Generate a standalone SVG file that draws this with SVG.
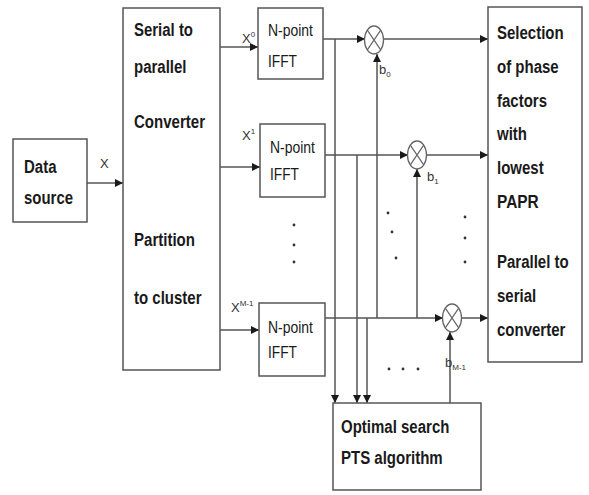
<svg xmlns="http://www.w3.org/2000/svg" width="589" height="495" viewBox="0 0 589 495">
<defs>
<marker id="ah" viewBox="0 0 10 10" refX="10" refY="5" markerWidth="8" markerHeight="8" markerUnits="userSpaceOnUse" orient="auto">
<path d="M0,0 L10,5 L0,10 z" fill="#1a1a1a"/>
</marker>
<style>
.box{fill:#fff;stroke:#555;stroke-width:1.5}
.t{font-family:"Liberation Sans",Arial,sans-serif;font-size:18px;font-weight:bold;fill:#1a1a1a}
.n{font-family:"Liberation Sans",Arial,sans-serif;font-size:17px;fill:#1a1a1a}
.s{font-family:"Liberation Sans",Arial,sans-serif;font-size:13px;fill:#333}
.sup{font-size:8px}
.ln{fill:none;stroke:#555;stroke-width:1.5}
.ar{fill:none;stroke:#555;stroke-width:1.5;marker-end:url(#ah)}
.mul{fill:#fff;stroke:#666;stroke-width:1.3}
.x{fill:none;stroke:#666;stroke-width:1.2}
.dot{fill:#333}
</style>
</defs>
<rect width="589" height="495" fill="#fff"/>

<g id="connectors">
<line class="ar" x1="87" y1="183" x2="123" y2="183"/>
<line class="ar" x1="220" y1="47" x2="258" y2="47"/>
<line class="ar" x1="220" y1="167" x2="260" y2="167"/>
<line class="ar" x1="220" y1="330" x2="259" y2="330"/>
<line class="ar" x1="323" y1="39" x2="365" y2="39"/>
<line class="ar" x1="384" y1="39" x2="488" y2="39"/>
<line class="ar" x1="325" y1="155" x2="408" y2="155"/>
<line class="ar" x1="427" y1="155" x2="488" y2="155"/>
<line class="ar" x1="325" y1="318" x2="443" y2="318"/>
<line class="ar" x1="462" y1="318" x2="488" y2="318"/>
<line class="ar" x1="335" y1="39" x2="335" y2="403"/>
<line class="ar" x1="357" y1="155" x2="357" y2="403"/>
<line class="ar" x1="367" y1="318" x2="367" y2="403"/>
<line class="ar" x1="377" y1="318" x2="377" y2="54"/>
<line class="ar" x1="417" y1="318" x2="417" y2="169"/>
<line class="ar" x1="450" y1="403" x2="450" y2="332"/>
</g>

<g id="mul0"><ellipse class="mul" cx="374" cy="40" rx="9.5" ry="14"/><path class="x" d="M367.3,30.1 L380.7,49.9 M380.7,30.1 L367.3,49.9"/></g>
<g id="mul1"><ellipse class="mul" cx="417" cy="155" rx="9.5" ry="14"/><path class="x" d="M410.3,145.1 L423.7,164.9 M423.7,145.1 L410.3,164.9"/></g>
<g id="mul2"><ellipse class="mul" cx="452" cy="318" rx="9.5" ry="14"/><path class="x" d="M445.3,308.1 L458.7,327.9 M458.7,308.1 L445.3,327.9"/></g>

<g id="datasource">
<rect class="box" x="13" y="139" width="74" height="83"/>
<text class="t" x="24" y="173" textLength="32.5" lengthAdjust="spacingAndGlyphs">Data</text>
<text class="t" x="24" y="204" textLength="49" lengthAdjust="spacingAndGlyphs">source</text>
</g>

<g id="sp">
<rect class="box" x="123" y="8" width="97" height="362"/>
<text class="t" x="134" y="36" textLength="59" lengthAdjust="spacingAndGlyphs">Serial to</text>
<text class="t" x="134" y="73" textLength="52.5" lengthAdjust="spacingAndGlyphs">parallel</text>
<text class="t" x="134" y="128" textLength="71" lengthAdjust="spacingAndGlyphs">Converter</text>
<text class="t" x="134" y="246" textLength="61" lengthAdjust="spacingAndGlyphs">Partition</text>
<text class="t" x="134" y="304" textLength="67.5" lengthAdjust="spacingAndGlyphs">to cluster</text>
</g>

<g id="ifft0">
<rect class="box" x="258" y="8" width="65" height="71"/>
<text class="n" x="268" y="36" textLength="45" lengthAdjust="spacingAndGlyphs">N-point</text>
<text class="n" x="268" y="67" textLength="29" lengthAdjust="spacingAndGlyphs">IFFT</text>
</g>
<g id="ifft1">
<rect class="box" x="260" y="124" width="65" height="73"/>
<text class="n" x="270" y="153" textLength="45" lengthAdjust="spacingAndGlyphs">N-point</text>
<text class="n" x="270" y="180" textLength="29" lengthAdjust="spacingAndGlyphs">IFFT</text>
</g>
<g id="ifft2">
<rect class="box" x="259" y="303" width="66" height="73"/>
<text class="n" x="268" y="333" textLength="45" lengthAdjust="spacingAndGlyphs">N-point</text>
<text class="n" x="268" y="358" textLength="29" lengthAdjust="spacingAndGlyphs">IFFT</text>
</g>

<g id="selection">
<rect class="box" x="488" y="7" width="94" height="355"/>
<text class="t" x="497" y="39" textLength="66.7" lengthAdjust="spacingAndGlyphs">Selection</text>
<text class="t" x="497" y="73" textLength="61.7" lengthAdjust="spacingAndGlyphs">of phase</text>
<text class="t" x="497" y="107" textLength="50" lengthAdjust="spacingAndGlyphs">factors</text>
<text class="t" x="497" y="140" textLength="30" lengthAdjust="spacingAndGlyphs">with</text>
<text class="t" x="497" y="174" textLength="46.7" lengthAdjust="spacingAndGlyphs">lowest</text>
<text class="t" x="497" y="208" textLength="41.7" lengthAdjust="spacingAndGlyphs">PAPR</text>
<text class="t" x="497" y="268" textLength="71.7" lengthAdjust="spacingAndGlyphs">Parallel to</text>
<text class="t" x="497" y="302" textLength="39.2" lengthAdjust="spacingAndGlyphs">serial</text>
<text class="t" x="497" y="336" textLength="68.4" lengthAdjust="spacingAndGlyphs">converter</text>
</g>

<g id="pts">
<rect class="box" x="333" y="403" width="148" height="87"/>
<text class="t" x="341" y="433" textLength="108.4" lengthAdjust="spacingAndGlyphs">Optimal search</text>
<text class="t" x="341" y="464" textLength="101.7" lengthAdjust="spacingAndGlyphs">PTS algorithm</text>
</g>

<g id="labels">
<text class="s" x="100" y="168">X</text>
<text class="s" x="242" y="43">X<tspan class="sup" dy="-6">0</tspan></text>
<text class="s" x="242" y="140">X<tspan class="sup" dy="-6">1</tspan></text>
<text class="s" x="231" y="312">X<tspan class="sup" dy="-6">M-1</tspan></text>
<text class="s" x="379" y="74">b<tspan class="sup" dy="3">0</tspan></text>
<text class="s" x="427" y="181">b<tspan class="sup" dy="3">1</tspan></text>
<text class="s" x="445" y="367">b<tspan class="sup" dy="3">M-1</tspan></text>
</g>

<g id="dots">
<circle class="dot" cx="294" cy="225" r="1.4"/>
<circle class="dot" cx="294" cy="245" r="1.4"/>
<circle class="dot" cx="294" cy="262" r="1.4"/>
<circle class="dot" cx="388" cy="213" r="1.4"/>
<circle class="dot" cx="392" cy="232" r="1.4"/>
<circle class="dot" cx="396" cy="258" r="1.4"/>
<circle class="dot" cx="465" cy="217" r="1.4"/>
<circle class="dot" cx="465" cy="238" r="1.4"/>
<circle class="dot" cx="465" cy="262" r="1.4"/>
<circle class="dot" cx="389" cy="369" r="1.4"/>
<circle class="dot" cx="403" cy="369" r="1.4"/>
<circle class="dot" cx="418" cy="369" r="1.4"/>
</g>
</svg>
